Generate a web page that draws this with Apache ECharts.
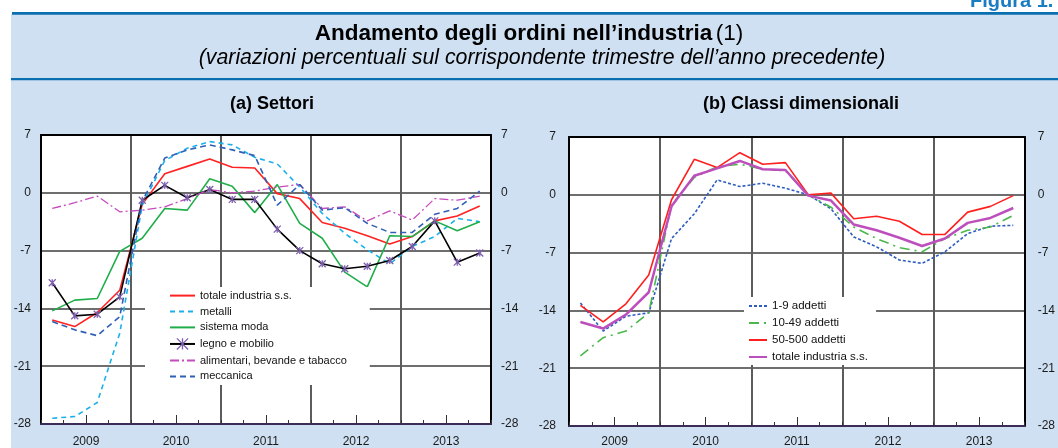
<!DOCTYPE html>
<html>
<head>
<meta charset="utf-8">
<script src="https://cdn.jsdelivr.net/npm/echarts@6/dist/echarts.min.js"></script>
<style>
  html, body { margin: 0; padding: 0; background: #fff; }
  #chart { width: 1058px; height: 448px; }
</style>
</head>
<body>
<div id="chart"></div>
<script>
// categorie: trimestri 2009-2013, etichette per anno
const years = ['2009', '2010', '2011', '2012', '2013'];
const quarters = [
  '2009T1', '2009T2', '2009T3', '2009T4', '2010T1', '2010T2', '2010T3', '2010T4',
  '2011T1', '2011T2', '2011T3', '2011T4', '2012T1', '2012T2', '2012T3', '2012T4',
  '2013T1', '2013T2', '2013T3', '2013T4'
];

// (a) Settori
const totale     = [-15.4, -16.2, -14.5, -11.8, -1.4, 2.3, 3.2, 4.1, 3.1, 3.0, -0.1, -0.7, -3.6, -4.3, -5.2, -6.2, -5.3, -3.4, -2.8, -1.6];
const metalli    = [-27.3, -27.1, -25.4, -17.0, -1.5, 3.9, 5.4, 6.2, 5.8, 4.3, 3.5, 0.7, -2.5, -4.9, -6.9, -8.6, -6.5, -5.3, -3.1, -3.5];
const moda       = [-14.3, -13.0, -12.8, -7.1, -5.5, -1.9, -2.1, 1.7, 0.8, -2.4, 1.0, -3.7, -5.5, -9.6, -11.4, -5.2, -5.3, -3.4, -4.6, -3.5];
const legno      = [-10.9, -14.9, -14.7, -12.6, -0.9, 0.9, -0.6, 0.4, -0.8, -0.8, -4.4, -7.0, -8.6, -9.2, -8.9, -8.2, -6.5, -3.4, -8.4, -7.3];
const alimentari = [-1.9, -1.2, -0.4, -2.3, -2.1, -1.7, -0.7, 0.4, 0.0, 0.2, 0.7, 1.0, -1.9, -1.7, -3.4, -2.2, -3.3, -0.7, -0.9, -0.4];
const meccanica  = [-15.6, -16.6, -17.3, -15.0, -1.0, 4.2, 5.2, 5.8, 5.2, 4.5, -1.5, 1.0, -2.1, -1.8, -3.7, -4.8, -4.8, -2.6, -1.9, 0.2];

// (b) Classi dimensionali
const addetti1_9    = [-13.1, -16.5, -14.7, -14.3, -5.3, -2.3, 1.8, 1.0, 1.4, 0.8, 0.0, -1.7, -5.1, -6.3, -7.9, -8.3, -6.9, -4.7, -3.8, -3.7];
const addetti10_49  = [-19.5, -17.3, -16.5, -14.3, -1.2, 2.1, 3.4, 3.7, 3.1, 2.9, 0.0, -1.5, -3.9, -5.3, -6.4, -6.9, -5.3, -4.3, -3.9, -2.5];
const addetti50_500 = [-13.4, -15.4, -13.2, -9.7, -0.6, 4.3, 3.3, 5.1, 3.7, 3.9, 0.0, 0.2, -2.9, -2.6, -3.2, -4.8, -4.8, -2.1, -1.4, -0.1];

const FONT = '"Liberation Sans", Arial, sans-serif';
const BG = '#cfe0f2';
const BLUE = '#0a6fb0';
const X_MARK = 'path://M0,0L10,10M10,0L0,10M5,0L5,10';

let chart = echarts.init(document.getElementById('chart'));

// assi x: trimestri (dati), anni (etichette + griglia), bordo sopra
function xAxes(g, labelMargin) {
  return [
    { type: 'category', gridIndex: g, data: quarters, boundaryGap: true, position: 'bottom', z: 3,
      axisLine: { show: true, onZero: false, lineStyle: { color: '#3b2c58', width: 2 } },
      axisTick: { show: true, inside: true, length: 4, interval: 0, lineStyle: { color: '#333' } },
      axisLabel: { show: false }, splitLine: { show: false } },
    { type: 'category', gridIndex: g, data: years, boundaryGap: true, position: 'bottom',
      axisLine: { show: false, onZero: false },
      axisTick: { show: true, inside: true, alignWithLabel: true, length: 9, lineStyle: { color: '#333' } },
      axisLabel: { margin: labelMargin, fontSize: 12, color: '#1a1a1a', fontFamily: FONT },
      splitLine: { show: true, interval: 0, lineStyle: { color: '#5c5c5c', width: 2 } } },
    { type: 'category', gridIndex: g, data: years, position: 'top', z: 3,
      axisLine: { show: true, onZero: false, lineStyle: { color: '#000', width: 2 } },
      axisTick: { show: false }, axisLabel: { show: false }, splitLine: { show: false } }
  ];
}

function yAxes(g, margin) {
  const base = { type: 'value', gridIndex: g, min: -28, max: 7, interval: 7 };
  return [
    Object.assign({}, base, { position: 'left', z: 3,
      axisLine: { show: true, onZero: false, lineStyle: { color: '#000', width: 2 } },
      axisTick: { show: false },
      axisLabel: { margin: margin, fontSize: 12, color: '#1a1a1a', fontFamily: FONT },
      splitLine: { show: false } }),
    Object.assign({}, base, { position: 'right', z: 3,
      axisLine: { show: true, onZero: false, lineStyle: { color: '#000', width: 2 } },
      axisTick: { show: false },
      axisLabel: { margin: margin, fontSize: 12, color: '#1a1a1a', fontFamily: FONT },
      splitLine: { show: false } }),
    Object.assign({}, base, { position: 'left',
      axisLine: { show: false, onZero: false }, axisTick: { show: false }, axisLabel: { show: false },
      splitLine: { show: true, lineStyle: { color: '#6e6e6e', width: 2 } } })
  ];
}

function line(name, data, g, color, width, dash) {
  return {
    name: name, type: 'line', data: data,
    xAxisIndex: g * 3, yAxisIndex: g * 3,
    symbol: 'none', showSymbol: false,
    lineStyle: { color: color, width: width, type: dash || 'solid' },
    itemStyle: { color: color },
    emphasis: { disabled: true }
  };
}

const legno_s = line('legno e mobilio', legno, 0, '#000', 1.6);
legno_s.symbol = X_MARK;
legno_s.showSymbol = true;
legno_s.symbolSize = 7;
legno_s.itemStyle = { color: 'transparent', borderColor: '#7d5fae', borderWidth: 1.3 };

const legendText = { fontSize: 11, color: '#111', fontFamily: FONT };
const noMark = { color: 'transparent', borderColor: 'transparent', borderWidth: 0 };

let option = {
  animation: false,
  graphic: [
    { type: 'rect', z: -10, shape: { x: 11, y: 14, width: 1047, height: 434 }, style: { fill: BG } },
    { type: 'rect', z: -9, shape: { x: 12, y: 12, width: 1046, height: 2.7 }, style: { fill: BLUE } },
    { type: 'rect', z: -9, shape: { x: 11, y: 78, width: 1047, height: 2.3 }, style: { fill: BLUE } },
    { type: 'text', x: 970, y: 1, style: { text: 'Figura 1.', font: 'bold 20px ' + FONT, fill: '#1a7cc1', align: 'left', verticalAlign: 'middle' } },
    { type: 'text', x: 529, y: 34, style: {
        text: '{b|Andamento degli ordini nell’industria} {n|(1)}',
        align: 'center', verticalAlign: 'middle',
        rich: { b: { font: 'bold 22.5px ' + FONT, fill: '#000' }, n: { font: '22.5px ' + FONT, fill: '#000' } } } },
    { type: 'text', x: 542, y: 58, style: {
        text: '(variazioni percentuali sul corrispondente trimestre dell’anno precedente)',
        font: 'italic 21.3px ' + FONT, fill: '#000', align: 'center', verticalAlign: 'middle' } },
    { type: 'text', x: 272, y: 104, style: { text: '(a) Settori', font: 'bold 18px ' + FONT, fill: '#000', align: 'center', verticalAlign: 'middle' } },
    { type: 'text', x: 801, y: 104, style: { text: '(b) Classi dimensionali', font: 'bold 18px ' + FONT, fill: '#000', align: 'center', verticalAlign: 'middle' } }
  ],
  grid: [
    { left: 41, top: 135, width: 450, height: 289, show: true, backgroundColor: '#fff', borderWidth: 0 },
    { left: 569, top: 137, width: 463, height: 290, show: true, backgroundColor: '#fff', borderWidth: 0 }
  ],
  xAxis: xAxes(0, 12).concat(xAxes(1, 10)),
  yAxis: yAxes(0, 10).concat(yAxes(1, 13)),
  legend: [
    { data: ['totale industria s.s.', 'metalli', 'sistema moda',
             { name: 'legno e mobilio', itemStyle: { color: 'transparent', borderColor: '#7d5fae', borderWidth: 1.3 } },
             'alimentari, bevande e tabacco', 'meccanica'],
      orient: 'vertical', left: 145, top: 287, padding: [3, 23, 3, 24],
      itemWidth: 25, itemHeight: 14, itemGap: 4.7, backgroundColor: '#fff',
      itemStyle: noMark, selectedMode: false, textStyle: legendText },
    { data: ['1-9 addetti', '10-49 addetti', '50-500 addetti', 'totale industria s.s. '],
      orient: 'vertical', left: 744, top: 297, padding: [3, 5, 2, 4],
      itemWidth: 18, itemHeight: 14, itemGap: 5, backgroundColor: '#fff',
      itemStyle: noMark, selectedMode: false, textStyle: Object.assign({}, legendText, { fontSize: 11.5 }) }
  ],
  series: [
    line('totale industria s.s.', totale, 0, '#ff2222', 1.6),
    line('metalli', metalli, 0, '#1cb0ea', 1.6, [5, 4]),
    line('sistema moda', moda, 0, '#1fae4a', 1.6),
    legno_s,
    line('alimentari, bevande e tabacco', alimentari, 0, '#c64bbd', 1.3, [9, 3, 2, 3]),
    line('meccanica', meccanica, 0, '#2f5fb6', 1.6, [6, 4]),
    line('1-9 addetti', addetti1_9, 1, '#2f5cbf', 1.6, [3, 2]),
    line('10-49 addetti', addetti10_49, 1, '#4cb84c', 1.6, [10, 5, 2, 5]),
    line('50-500 addetti', addetti50_500, 1, '#ff1f1f', 1.6),
    line('totale industria s.s. ', totale, 1, '#bd4fbd', 2.5)
  ]
};

chart.setOption(option);

window.addEventListener('resize', function () {
  chart.resize();
});
</script>
</body>
</html>
